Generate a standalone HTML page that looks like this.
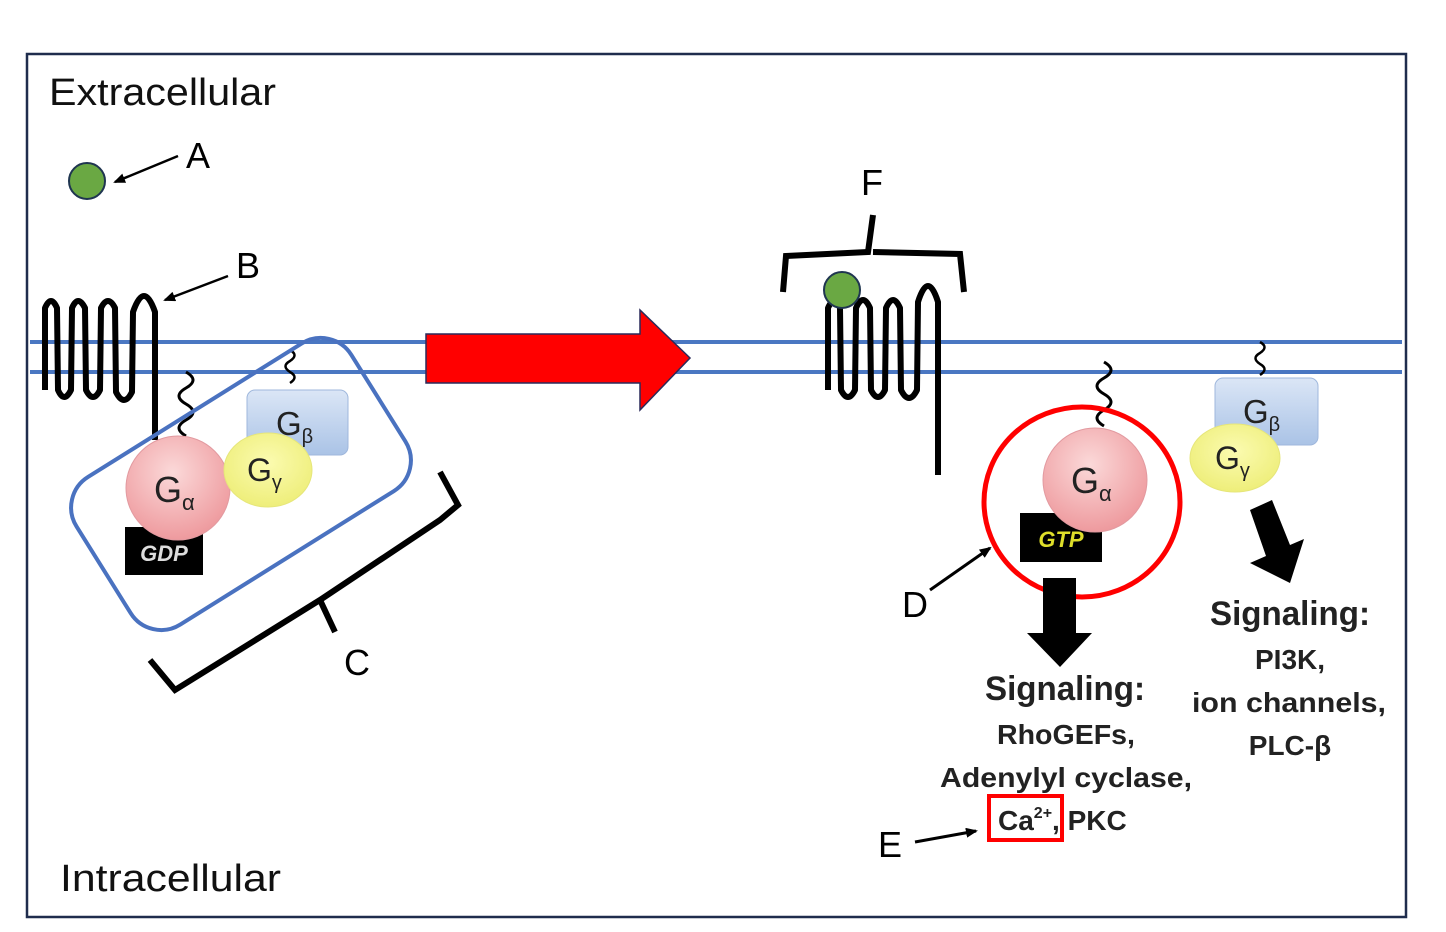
<!DOCTYPE html>
<html><head><meta charset="utf-8"><style>
html,body{margin:0;padding:0;background:#fff;}
svg{display:block;}
text{font-family:"Liberation Sans",sans-serif;}
.b{font-weight:bold;fill:#222;}
</style></head><body>
<svg width="1446" height="932" viewBox="0 0 1446 932" xmlns="http://www.w3.org/2000/svg">
<defs>
<radialGradient id="pk" cx="45%" cy="35%" r="65%"><stop offset="0" stop-color="#fbd9d9"/><stop offset="1" stop-color="#ee9a9e"/></radialGradient>
<linearGradient id="bl" x1="0" y1="0" x2="0" y2="1"><stop offset="0" stop-color="#dbe6f6"/><stop offset="1" stop-color="#aac3e6"/></linearGradient>
<radialGradient id="yl" cx="50%" cy="40%" r="60%"><stop offset="0" stop-color="#fbfbb0"/><stop offset="1" stop-color="#eeee7a"/></radialGradient>
<marker id="ah" markerWidth="12" markerHeight="10" refX="10" refY="5" orient="auto" markerUnits="userSpaceOnUse"><path d="M0,0 L12,5 L0,10 z" fill="#000"/></marker>
</defs>
<rect x="27" y="54" width="1379" height="863" fill="none" stroke="#1f2d4d" stroke-width="2.5"/>
<line x1="30" y1="342" x2="1402" y2="342" stroke="#4a77c2" stroke-width="4"/>
<line x1="30" y1="372" x2="1402" y2="372" stroke="#4a77c2" stroke-width="4"/>
<text x="49" y="105" font-size="38" fill="#111" textLength="227" lengthAdjust="spacingAndGlyphs">Extracellular</text>
<text x="60" y="891" font-size="38" fill="#111" textLength="221" lengthAdjust="spacingAndGlyphs">Intracellular</text>
<circle cx="87" cy="181" r="18" fill="#6aa843" stroke="#1f3550" stroke-width="2"/>
<line x1="178" y1="156" x2="115" y2="182" stroke="#000" stroke-width="2.5" marker-end="url(#ah)"/>
<text x="186" y="168" font-size="36">A</text>
<path d="M45,390 L45,308 Q51,294 57,308 L58,390 Q64,404 71,390 L72,308 Q78,294 85,308 L86,390 Q93,404 100,390 L101,308 Q108,294 115,308 L116,392 Q124,408 132,392 L133,312 Q144,280 155,312 L155,440" fill="none" stroke="#000" stroke-width="6" stroke-linejoin="round"/>
<line x1="228" y1="276" x2="165" y2="300" stroke="#000" stroke-width="2.5" marker-end="url(#ah)"/>
<text x="236" y="278" font-size="36">B</text>
<path d="M186,372 q14,8 0,16 q-14,8 0,16 q14,8 0,16 q-14,8 0,16" fill="none" stroke="#000" stroke-width="3"/>
<path d="M290,350 q9,5 0,11 q-9,5 0,11 q9,5 0,11" fill="none" stroke="#000" stroke-width="2.5"/>
<rect x="247" y="390" width="101" height="65" rx="8" fill="url(#bl)" stroke="#9fb7dc"/>
<text x="276" y="435" font-size="33" fill="#222">G<tspan font-size="20" dy="8">β</tspan></text>
<rect x="125" y="527" width="78" height="48" fill="#000"/>
<text x="164" y="561" font-size="22" fill="#ddd" text-anchor="middle" font-style="italic" font-weight="bold">GDP</text>
<circle cx="178" cy="488" r="52" fill="url(#pk)" stroke="#e29aa0"/>
<text x="154" y="502" font-size="36" fill="#222">G<tspan font-size="22" dy="8">α</tspan></text>
<ellipse cx="268" cy="470" rx="44" ry="37" fill="url(#yl)" stroke="#e6e67a"/>
<text x="247" y="481" font-size="32" fill="#222">G<tspan font-size="20" dy="8">γ</tspan></text>
<rect x="79" y="397" width="324" height="174" rx="36" fill="none" stroke="#4a72c0" stroke-width="4" transform="rotate(-32 241 484)"/>
<path d="M150,660 L175,690 L320,600 L335,632 M320,600 L440,520 L458,505 L440,472" fill="none" stroke="#000" stroke-width="6"/>
<text x="344" y="675" font-size="36">C</text>
<path d="M426,334 L640,334 L640,310 L690,358 L640,410 L640,383 L426,383 z" fill="#f00" stroke="#2a2a5a" stroke-width="1.5"/>
<path d="M783,292 L786,256 L868,252 L873,215 M873,252 L960,254 L964,292" fill="none" stroke="#000" stroke-width="6"/>
<text x="861" y="195" font-size="36">F</text>
<path d="M828,390 L828,308 Q834,294 840,308 L841,390 Q848,404 855,390 L856,308 Q863,292 870,308 L871,390 Q878,404 885,390 L886,308 Q893,292 900,308 L901,390 Q909,406 917,390 L918,302 Q928,270 938,302 L938,475" fill="none" stroke="#000" stroke-width="6" stroke-linejoin="round"/>
<circle cx="842" cy="290" r="18" fill="#6aa843" stroke="#1f3550" stroke-width="2"/>
<path d="M1104,362 q14,8 0,16 q-14,8 0,16 q14,8 0,16 q-14,8 0,16" fill="none" stroke="#000" stroke-width="3"/>
<path d="M1260,342 q9,5 0,11 q-9,5 0,11 q9,5 0,11" fill="none" stroke="#000" stroke-width="2.5"/>
<rect x="1215" y="378" width="103" height="67" rx="8" fill="url(#bl)" stroke="#9fb7dc"/>
<text x="1243" y="423" font-size="33" fill="#222">G<tspan font-size="20" dy="8">β</tspan></text>
<ellipse cx="1235" cy="458" rx="45" ry="34" fill="url(#yl)" stroke="#e6e67a"/>
<text x="1215" y="469" font-size="32" fill="#222">G<tspan font-size="20" dy="8">γ</tspan></text>
<rect x="1020" y="513" width="82" height="49" fill="#000"/>
<text x="1061" y="547" font-size="22" fill="#dede2a" text-anchor="middle" font-style="italic" font-weight="bold">GTP</text>
<circle cx="1095" cy="480" r="52" fill="url(#pk)" stroke="#e29aa0"/>
<text x="1071" y="493" font-size="36" fill="#222">G<tspan font-size="22" dy="8">α</tspan></text>
<ellipse cx="1082" cy="502" rx="98" ry="95" fill="none" stroke="#f00" stroke-width="5"/>
<line x1="930" y1="590" x2="990" y2="548" stroke="#000" stroke-width="3" marker-end="url(#ah)"/>
<text x="902" y="617" font-size="36">D</text>
<path d="M1043,578 L1076,578 L1076,633 L1092,633 L1060,667 L1027,633 L1043,633 z" fill="#000"/>
<path d="M1250,510 L1272,500 L1290,545 L1304,539 L1290,583 L1250,563 L1266,556 z" fill="#000"/>
<text class="b" x="985" y="700" font-size="34" textLength="160" lengthAdjust="spacingAndGlyphs">Signaling:</text>
<text class="b" x="997" y="744" font-size="28" textLength="138" lengthAdjust="spacingAndGlyphs">RhoGEFs,</text>
<text class="b" x="940" y="787" font-size="28" textLength="252" lengthAdjust="spacingAndGlyphs">Adenylyl cyclase,</text>
<text class="b" x="998" y="830" font-size="28">Ca<tspan font-size="16" dy="-12">2+</tspan><tspan dy="12">, PKC</tspan></text>
<rect x="989" y="796" width="73" height="44" fill="none" stroke="#f00" stroke-width="4"/>
<line x1="915" y1="842" x2="976" y2="831" stroke="#000" stroke-width="3" marker-end="url(#ah)"/>
<text x="878" y="857" font-size="36">E</text>
<text class="b" x="1210" y="625" font-size="34" textLength="160" lengthAdjust="spacingAndGlyphs">Signaling:</text>
<text class="b" x="1290" y="669" font-size="28" text-anchor="middle">PI3K,</text>
<text class="b" x="1192" y="712" font-size="28" textLength="194" lengthAdjust="spacingAndGlyphs">ion channels,</text>
<text class="b" x="1290" y="755" font-size="28" text-anchor="middle">PLC-β</text>
</svg>
</body></html>
